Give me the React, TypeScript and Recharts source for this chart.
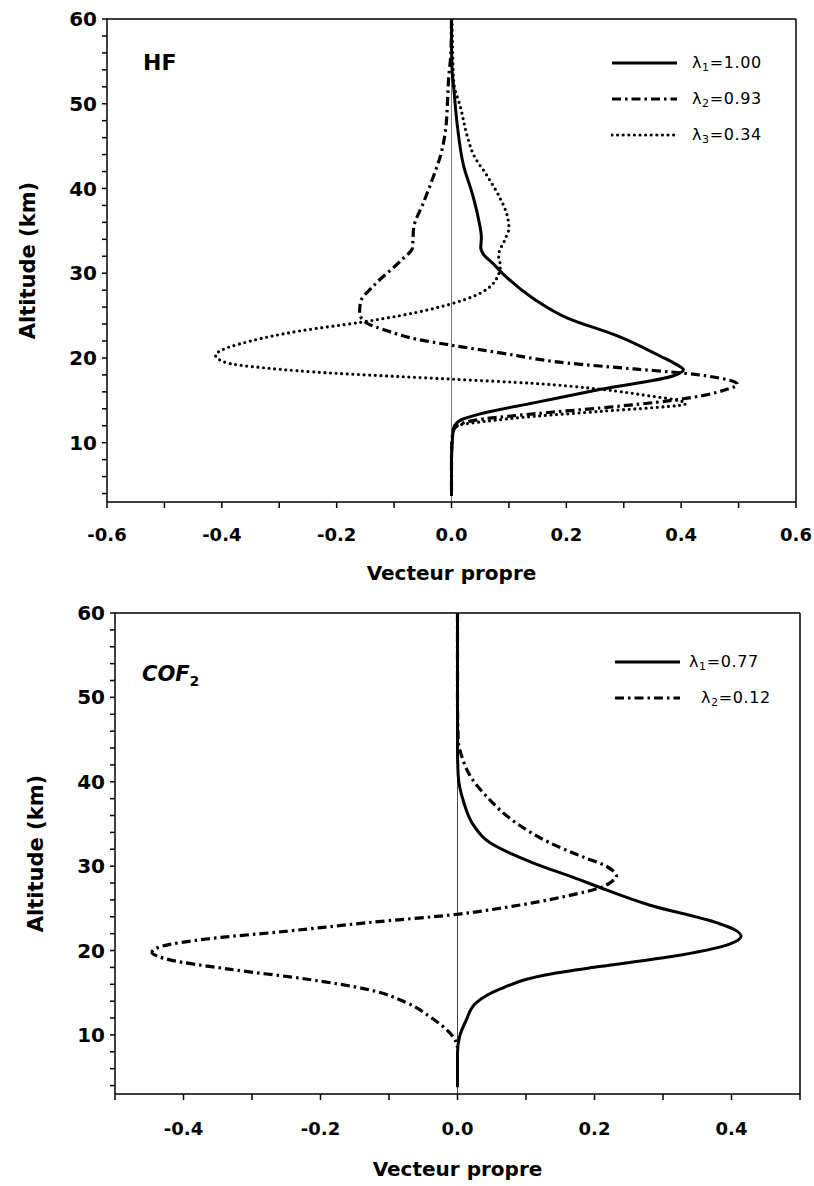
import React from 'react';
import { ScatterChart, Scatter, XAxis, YAxis, ReferenceLine, Legend } from 'recharts';

const FONT = '"DejaVu Sans", Verdana, sans-serif';

// [altitude km, eigenvector component], read from top to bottom of each profile
const hfLambda1: [number, number][] = [
  [60, 0], [57, 0], [54, 0.001], [51.8, 0.004], [47.5, 0.01], [42.7, 0.021], [39.2, 0.037],
  [36.4, 0.047], [34.2, 0.052], [33.0, 0.051], [32.2, 0.056], [31.1, 0.073], [30.1, 0.087],
  [27.0, 0.143], [24.7, 0.202], [22.6, 0.289], [20.2, 0.364], [19.3, 0.39], [18.6, 0.404],
  [17.9, 0.387], [16.3, 0.26], [14.7, 0.143], [13.5, 0.056], [12.5, 0.012], [11.5, 0.003],
  [8, 0], [3.7, 0],
];
const hfLambda2: [number, number][] = [
  [60, 0], [56, -0.001], [53, -0.005], [50.2, -0.007], [47.1, -0.01], [43.9, -0.019],
  [41.5, -0.031], [38.3, -0.049], [35.3, -0.066], [33.0, -0.068], [31.5, -0.088],
  [28.5, -0.136], [26.5, -0.159], [25.3, -0.16], [24.1, -0.147], [23.2, -0.112], [22.2, -0.06],
  [21.5, 0], [20.6, 0.085], [19.4, 0.202], [18.7, 0.318], [18.2, 0.405], [17.6, 0.469],
  [16.9, 0.498], [16.3, 0.48], [15.0, 0.385], [14.1, 0.26], [13.4, 0.143], [12.8, 0.056],
  [12.0, 0.01], [11.2, 0.002], [8, 0], [4, 0],
];
const hfLambda3: [number, number][] = [
  [60, 0.001], [56, 0.002], [52.5, 0.004], [49.5, 0.016], [46.3, 0.027], [43.9, 0.039],
  [41.5, 0.062], [39.2, 0.082], [36.8, 0.097], [35.3, 0.1], [34.1, 0.094], [32.1, 0.082],
  [30.9, 0.085], [28.9, 0.074], [27.3, 0.039], [26.4, 0], [25.0, -0.089], [24.2, -0.159],
  [23.2, -0.263], [22.0, -0.35], [20.6, -0.408], [20.3, -0.411], [19.4, -0.39], [18.8, -0.321],
  [18.2, -0.205], [17.8, -0.089], [17.5, 0], [17.0, 0.143], [16.3, 0.26], [15.5, 0.347],
  [15.1, 0.387], [14.6, 0.408], [13.7, 0.26], [13.1, 0.143], [12.5, 0.056], [12.0, 0.01],
  [11, 0.002], [8, 0], [4, 0],
];
const cofLambda1: [number, number][] = [
  [60, 0], [50, 0], [44, 0], [40.8, 0.001], [37.6, 0.009], [34.9, 0.023], [32.8, 0.047],
  [31.6, 0.075], [30.4, 0.11], [28.4, 0.178], [27.5, 0.207], [25.4, 0.28], [23.3, 0.378],
  [22.5, 0.404], [21.7, 0.414], [20.8, 0.398], [19.2, 0.305], [18.1, 0.207], [17.2, 0.134],
  [15.4, 0.061], [13.8, 0.027], [11.8, 0.013], [9.8, 0.003], [7.9, 0], [3.8, 0],
];
const cofLambda2: [number, number][] = [
  [60, 0], [50, 0], [45, 0.001], [42.6, 0.008], [40.5, 0.02], [38.3, 0.042], [35.1, 0.086],
  [32.8, 0.134], [31.1, 0.183], [30.0, 0.217], [28.8, 0.232], [28.0, 0.222], [27.6, 0.213],
  [26.4, 0.156], [25.1, 0.069], [24.3, 0], [23.3, -0.132], [22.3, -0.248], [21.4, -0.363],
  [20.5, -0.432], [19.8, -0.446], [18.9, -0.42], [17.8, -0.334], [16.6, -0.219], [15.4, -0.132],
  [13.8, -0.074], [12.2, -0.041], [10.3, -0.012], [9.5, -0.004], [8.5, 0],
];

const altTicks = [4, 6, 8, 10, 12, 14, 16, 18, 20, 22, 24, 26, 28, 30, 32, 34, 36, 38, 40, 42, 44, 46, 48, 50, 52, 54, 56, 58, 60];
const hfTicks = [-0.6, -0.5, -0.4, -0.3, -0.2, -0.1, 0, 0.1, 0.2, 0.3, 0.4, 0.5, 0.6];
const cofTicks = [-0.5, -0.4, -0.3, -0.2, -0.1, 0, 0.1, 0.2, 0.3, 0.4, 0.5];

const hfLabels = [['1', '1.00'], ['2', '0.93'], ['3', '0.34']];
const cofLabels = [['1', '0.77'], ['2', '0.12']];

const SOLID = { stroke: '#000', strokeWidth: 3, fill: 'none' };
const DASHDOT = { stroke: '#000', strokeWidth: 3.2, strokeDasharray: '9 4 2.5 4', fill: 'none' };
const DOTTED = { stroke: '#000', strokeWidth: 3.2, strokeDasharray: '0 5.6', strokeLinecap: 'round' as const, fill: 'none' };

const toPoints = (rows: [number, number][]) => rows.map(([alt, v]) => ({ alt, v }));
const noDot = () => <g />;

const axisStroke = { stroke: '#000', strokeWidth: 1.5 };
const xTickStyle = { fill: '#000', fontSize: 18, fontWeight: 700, fontFamily: FONT };
const yTickStyle = { fill: '#000', fontSize: 20, fontWeight: 700, fontFamily: FONT };

const fmtAlt = (v: number) => (v % 10 === 0 ? String(v) : '');
const fmtVec = (v: number) => (Math.abs(Math.round(v * 10)) % 2 === 0 ? v.toFixed(1) : '');

// axis titles drawn from the axis viewBox
const xTitle = (gap: number) => ({ viewBox }: any) => (
  <text x={viewBox.x + viewBox.width / 2} y={viewBox.y + gap} textAnchor="middle"
    style={{ fontFamily: FONT, fontSize: 20, fontWeight: 700 }} fill="#000">Vecteur propre</text>
);
const yTitle = (gap: number) => ({ viewBox }: any) => {
  const cx = viewBox.x + viewBox.width - gap;
  const cy = viewBox.y + viewBox.height / 2;
  return (
    <text x={cx} y={cy} transform={`rotate(-90, ${cx}, ${cy})`} textAnchor="middle" dominantBaseline="central"
      style={{ fontFamily: FONT, fontSize: 21, fontWeight: 700 }} fill="#000">Altitude (km)</text>
  );
};

const LegendBox = ({ items }: { items: { style: any; sub: string; val: string; indent: number }[] }) => (
  <div style={{ fontFamily: FONT, fontSize: 16, color: '#000' }}>
    {items.map((it) => (
      <div key={it.sub} style={{ display: 'flex', alignItems: 'center', height: 36 }}>
        <svg width={67} height={8} style={{ display: 'block' }}>
          <line x1={1} y1={4} x2={66} y2={4} {...it.style} />
        </svg>
        <span style={{ marginLeft: it.indent, letterSpacing: 0.6 }}>
          λ<sub style={{ fontSize: 11, verticalAlign: -3 }}>{it.sub}</sub>={it.val}
        </span>
      </div>
    ))}
  </div>
);

type Series = { rows: [number, number][]; style: any };

interface PanelProps {
  top: number;
  height: number;
  margin: { top: number; right: number; bottom: number; left: number };
  xDomain: [number, number];
  xTicks: number[];
  series: Series[];
  legendItems: { style: any; sub: string; val: string; indent: number }[];
  legendPos: { left: number; top: number };
  title: React.ReactNode;
  zeroColor: string;
  xTitleGap: number;
  tickGap: number;
}

const Panel = (p: PanelProps) => (
  <div style={{ position: 'absolute', left: 0, top: p.top }}>
    <ScatterChart width={814} height={p.height} margin={p.margin}>
      <XAxis xAxisId="b" type="number" dataKey="v" domain={p.xDomain} ticks={p.xTicks} interval={0}
        allowDataOverflow tickFormatter={fmtVec} tick={xTickStyle} tickSize={6} tickMargin={p.tickGap}
        height={60} axisLine={axisStroke} tickLine={axisStroke} label={xTitle(p.xTitleGap)} />
      <XAxis xAxisId="t" orientation="top" mirror type="number" domain={p.xDomain} ticks={p.xTicks}
        interval={0} allowDataOverflow tick={false} tickSize={6} axisLine={axisStroke} tickLine={axisStroke} />
      <YAxis yAxisId="l" type="number" dataKey="alt" domain={[3, 60]} ticks={altTicks} interval={0}
        allowDataOverflow tickFormatter={fmtAlt} tick={yTickStyle} tickSize={5} tickMargin={5}
        width={60} axisLine={axisStroke} tickLine={axisStroke} label={yTitle(79)} />
      <YAxis yAxisId="r" orientation="right" mirror type="number" domain={[3, 60]} ticks={altTicks}
        interval={0} allowDataOverflow tick={false} tickSize={6} axisLine={axisStroke} tickLine={axisStroke} />
      <ReferenceLine xAxisId="b" yAxisId="l" x={0} stroke={p.zeroColor} strokeWidth={1} />
      {p.series.map((s, i) => (
        <Scatter key={i} xAxisId="b" yAxisId="l" data={toPoints(s.rows)} line={s.style} lineType="joint"
          lineJointType="monotoneY" shape={noDot} isAnimationActive={false} />
      ))}
      <Legend layout="vertical" align="center" verticalAlign="middle"
        wrapperStyle={{ left: p.legendPos.left, top: p.legendPos.top, width: 200 }}
        content={() => <LegendBox items={p.legendItems} />} />
      {p.title}
    </ScatterChart>
  </div>
);

export default function App() {
  const hfStyles = [SOLID, DASHDOT, DOTTED];
  const cofStyles = [SOLID, DASHDOT];
  return (
    <div style={{ position: 'absolute', left: 0, top: 0, width: 814, height: 1186, background: '#fff' }}>
      <Panel
        top={0}
        height={590}
        margin={{ top: 19, right: 18, bottom: 28, left: 47 }}
        xDomain={[-0.6, 0.6]}
        xTicks={hfTicks}
        series={[hfLambda1, hfLambda2, hfLambda3].map((rows, i) => ({ rows, style: hfStyles[i] }))}
        legendItems={hfLabels.map(([sub, val], i) => ({ style: hfStyles[i], sub, val, indent: 14 }))}
        legendPos={{ left: 611, top: 45 }}
        title={<text x={143} y={70} style={{ fontFamily: FONT, fontSize: 22, fontWeight: 700 }} fill="#000">HF</text>}
        zeroColor="#777"
        xTitleGap={78}
        tickGap={20}
      />
      <Panel
        top={600}
        height={586}
        margin={{ top: 13, right: 14, bottom: 32, left: 55 }}
        xDomain={[-0.5, 0.5]}
        xTicks={cofTicks}
        series={[cofLambda1, cofLambda2].map((rows, i) => ({ rows, style: cofStyles[i] }))}
        legendItems={cofLabels.map(([sub, val], i) => ({ style: cofStyles[i], sub, val, indent: i === 0 ? 8 : 20 }))}
        legendPos={{ left: 614, top: 44 }}
        title={
          <text x={142} y={81} style={{ fontFamily: FONT, fontSize: 21, fontWeight: 700 }} fill="#000">
            <tspan fontStyle="italic">COF</tspan>
            <tspan fontSize={14} dy={5}>2</tspan>
          </text>
        }
        zeroColor="#444"
        xTitleGap={82}
        tickGap={22}
      />
    </div>
  );
}
